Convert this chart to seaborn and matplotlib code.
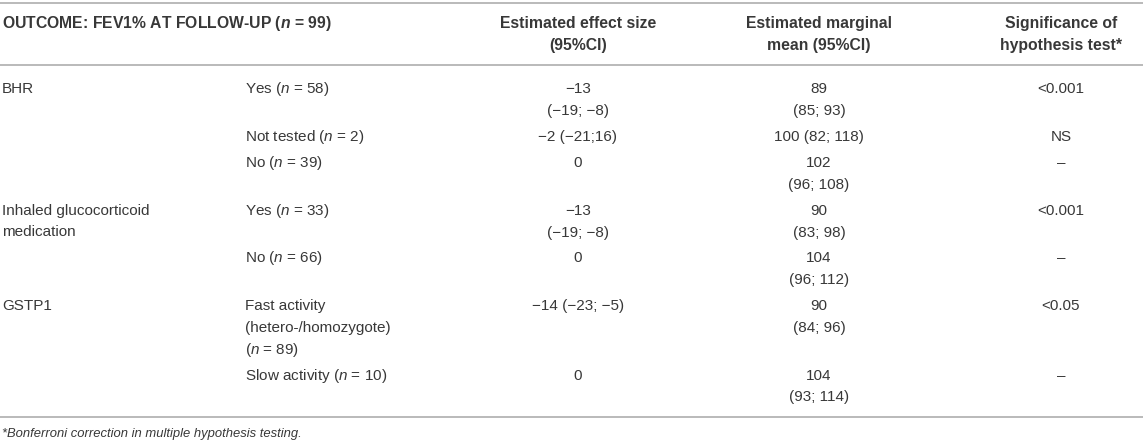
import matplotlib
matplotlib.use("Agg")
import matplotlib.pyplot as plt
import seaborn as sns

# table content
header = [r"OUTCOME: FEV1% AT FOLLOW-UP ($\mathbfit{n}$ = 99)", "",
          "Estimated effect size\n(95%CI)",
          "Estimated marginal\nmean (95%CI)",
          "Significance of\nhypothesis test*"]
groups = ["BHR", "", "", "Inhaled glucocorticoid\nmedication", "", "GSTP1", ""]
levels = ["Yes ($n$ = 58)", "Not tested ($n$ = 2)", "No ($n$ = 39)",
          "Yes ($n$ = 33)", "No ($n$ = 66)",
          "Fast activity\n(hetero-/homozygote)\n($n$ = 89)", "Slow activity ($n$ = 10)"]
effects = ["\u221213\n(\u221219; \u22128)", "\u22122 (\u221221;16)", "0",
           "\u221213\n(\u221219; \u22128)", "0", "\u221214 (\u221223; \u22125)", "0"]
margins = ["89\n(85; 93)", "100 (82; 118)", "102\n(96; 108)", "90\n(83; 98)",
           "104\n(96; 112)", "90\n(84; 96)", "104\n(93; 114)"]
signif = ["<0.001", "NS", "\u2013", "<0.001", "\u2013", "<0.05", "\u2013"]
footnote = "*Bonferroni correction in multiple hypothesis testing."

sns.set_theme(style="white")
plt.rcParams["font.family"] = ["Liberation Sans", "DejaVu Sans"]
plt.rcParams["mathtext.fontset"] = "custom"
plt.rcParams["mathtext.rm"] = "Liberation Sans"
plt.rcParams["mathtext.it"] = "Liberation Sans:italic"
plt.rcParams["mathtext.bf"] = "Liberation Sans:bold"
plt.rcParams["mathtext.bfit"] = "Liberation Sans:bold:italic"

W, H = 1143, 443
fig = plt.figure(figsize=(W / 100, H / 100), dpi=100)
ax = fig.add_axes([0, 0, 1, 1])
ax.set_xlim(0, W)
ax.set_ylim(H, 0)
ax.axis("off")

txt = "#383838"
rule = "#b4b4b4"
lh = 21.7
cols = [(2, "left"), (245, "left"), (578, "center"), (819, "center"), (1061, "center")]


def cell(x, y, s, ha, fs=11.0, **kw):
    for i, line in enumerate(s.split("\n")):
        ax.text(x, y + i * lh + 5.4, line, ha=ha, va="baseline",
                fontsize=fs, color=txt, **kw)


for (x, ha), s in zip(cols, header):
    if s:
        cell(x, 23, s, ha, fs=11.3, fontweight="bold")

y = 88
for row in zip(groups, levels, effects, margins, signif):
    for (x, ha), s in zip(cols, row):
        if s:
            cell(x, y, s, ha)
    n = max(s.count("\n") + 1 for s in row)
    y += n * lh + 4.3

for yy in (3, 65, 417):
    ax.axhline(yy, color=rule, lw=1.3)

ax.text(2, 437, footnote, ha="left", va="baseline", fontsize=9.4,
        style="italic", color=txt)

fig.savefig("out.png", dpi=100)
